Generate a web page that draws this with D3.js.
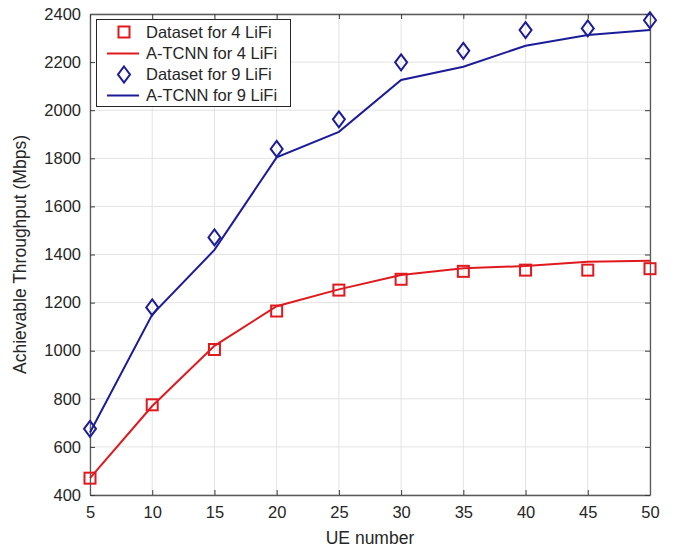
<!DOCTYPE html>
<html><head><meta charset="utf-8">
<script src="https://cdn.jsdelivr.net/npm/d3@7"></script>
<style>body{margin:0;background:#fff;} text{font-family:"Liberation Sans",Arial,sans-serif;fill:#262626;}</style>
</head><body>
<svg id="c" width="681" height="551"></svg>
<script>
const ueNumbers = [5,10,15,20,25,30,35,40,45,50];
const dataset4 = [470,775,1005,1165,1252,1297,1330,1335,1335,1341];
const atcnn4 = [470,770,1020,1185,1255,1315,1343,1352,1370,1374];
const dataset9 = [675,1180,1471,1839,1962,2199,2247,2333,2340,2374];
const atcnn9 = [660,1150,1419,1804,1910,2126,2181,2268,2313,2333];
const xTicks = [5,10,15,20,25,30,35,40,45,50];
const yTicks = [400,600,800,1000,1200,1400,1600,1800,2000,2200,2400];
const legendLabels = ["Dataset for 4 LiFi","A-TCNN for 4 LiFi","Dataset for 9 LiFi","A-TCNN for 9 LiFi"];

const red = "#e0191f", blue = "#1c1c99";
const L=90,R=650,T=14,B=495;
const svg = d3.select("#c");
const x = d3.scaleLinear().domain([5,50]).range([L,R]);
const y = d3.scaleLinear().domain([400,2400]).range([B,T]);

// grid
const g = svg.append("g");
g.selectAll(".gx").data(xTicks).join("line").attr("x1",d=>x(d)).attr("x2",d=>x(d)).attr("y1",T).attr("y2",B).attr("stroke","#e3e3e3").attr("stroke-width",1);
g.selectAll(".gy").data(yTicks).join("line").attr("y1",d=>y(d)).attr("y2",d=>y(d)).attr("x1",L).attr("x2",R).attr("stroke","#e3e3e3").attr("stroke-width",1);

// axes
const ax = d3.axisBottom(x).tickValues(xTicks).tickFormat(d3.format("d")).tickSizeInner(-5).tickSizeOuter(0).tickPadding(11);
const ay = d3.axisLeft(y).tickValues(yTicks).tickFormat(d3.format("d")).tickSizeInner(-5).tickSizeOuter(0).tickPadding(9);
const axT = d3.axisTop(x).tickValues(xTicks).tickSizeInner(-5).tickSizeOuter(0).tickFormat("");
const ayR = d3.axisRight(y).tickValues(yTicks).tickSizeInner(-5).tickSizeOuter(0).tickFormat("");
function style(sel){sel.selectAll("path").attr("stroke","#5a5a5a").attr("stroke-width",1.3);sel.selectAll("line").attr("stroke","#3a3a3a");sel.selectAll("text").style("font-size","16.5px").attr("fill","#262626").style("font-family","Liberation Sans, Arial, sans-serif");}
svg.append("g").attr("transform",`translate(0,${B})`).call(ax).call(style);
svg.append("g").attr("transform",`translate(${L},0)`).call(ay).call(style);
svg.append("g").attr("transform",`translate(0,${T})`).call(axT).call(style);
svg.append("g").attr("transform",`translate(${R},0)`).call(ayR).call(style);

const line = d3.line().x((d,i)=>x(ueNumbers[i])).y(d=>y(d));
svg.append("path").datum(atcnn4).attr("d",line).attr("fill","none").attr("stroke",red).attr("stroke-width",2);
svg.append("path").datum(atcnn9).attr("d",line).attr("fill","none").attr("stroke",blue).attr("stroke-width",2);

const sq = 11;
svg.selectAll(".sq").data(dataset4).join("rect").attr("x",(d,i)=>x(ueNumbers[i])-sq/2).attr("y",d=>y(d)-sq/2).attr("width",sq).attr("height",sq).attr("fill","none").attr("stroke",red).attr("stroke-width",2);
function diamond(cx,cy){return `M${cx},${cy-8}L${cx+6},${cy}L${cx},${cy+8}L${cx-6},${cy}Z`;}
svg.selectAll(".dm").data(dataset9).join("path").attr("d",(d,i)=>diamond(x(ueNumbers[i]),y(d))).attr("fill","none").attr("stroke",blue).attr("stroke-width",2);

// labels
svg.append("text").attr("x",(L+R)/2).attr("y",544).attr("text-anchor","middle").style("font-size","17.5px").text("UE number");
svg.append("text").attr("transform",`translate(26,${(T+B)/2}) rotate(-90)`).attr("text-anchor","middle").style("font-size","17.5px").text("Achievable Throughput (Mbps)");

// legend
const lg = svg.append("g");
lg.append("rect").attr("x",96.5).attr("y",19.5).attr("width",194).attr("height",87).attr("fill","#fff").attr("stroke","#262626").attr("stroke-width",1);
const rows=[32,53.5,74.5,95.5];
lg.append("rect").attr("x",124-sq/2).attr("y",rows[0]-sq/2).attr("width",sq).attr("height",sq).attr("fill","none").attr("stroke",red).attr("stroke-width",2);
lg.append("line").attr("x1",107).attr("x2",139).attr("y1",rows[1]).attr("y2",rows[1]).attr("stroke",red).attr("stroke-width",2);
lg.append("path").attr("d",diamond(124,rows[2])).attr("fill","none").attr("stroke",blue).attr("stroke-width",2);
lg.append("line").attr("x1",107).attr("x2",139).attr("y1",rows[3]).attr("y2",rows[3]).attr("stroke",blue).attr("stroke-width",2);
lg.selectAll(".lt").data(legendLabels).join("text").attr("x",146).attr("y",(d,i)=>rows[i]).attr("dy","0.36em").style("font-size","16.5px").text(d=>d);
</script>
</body></html>
